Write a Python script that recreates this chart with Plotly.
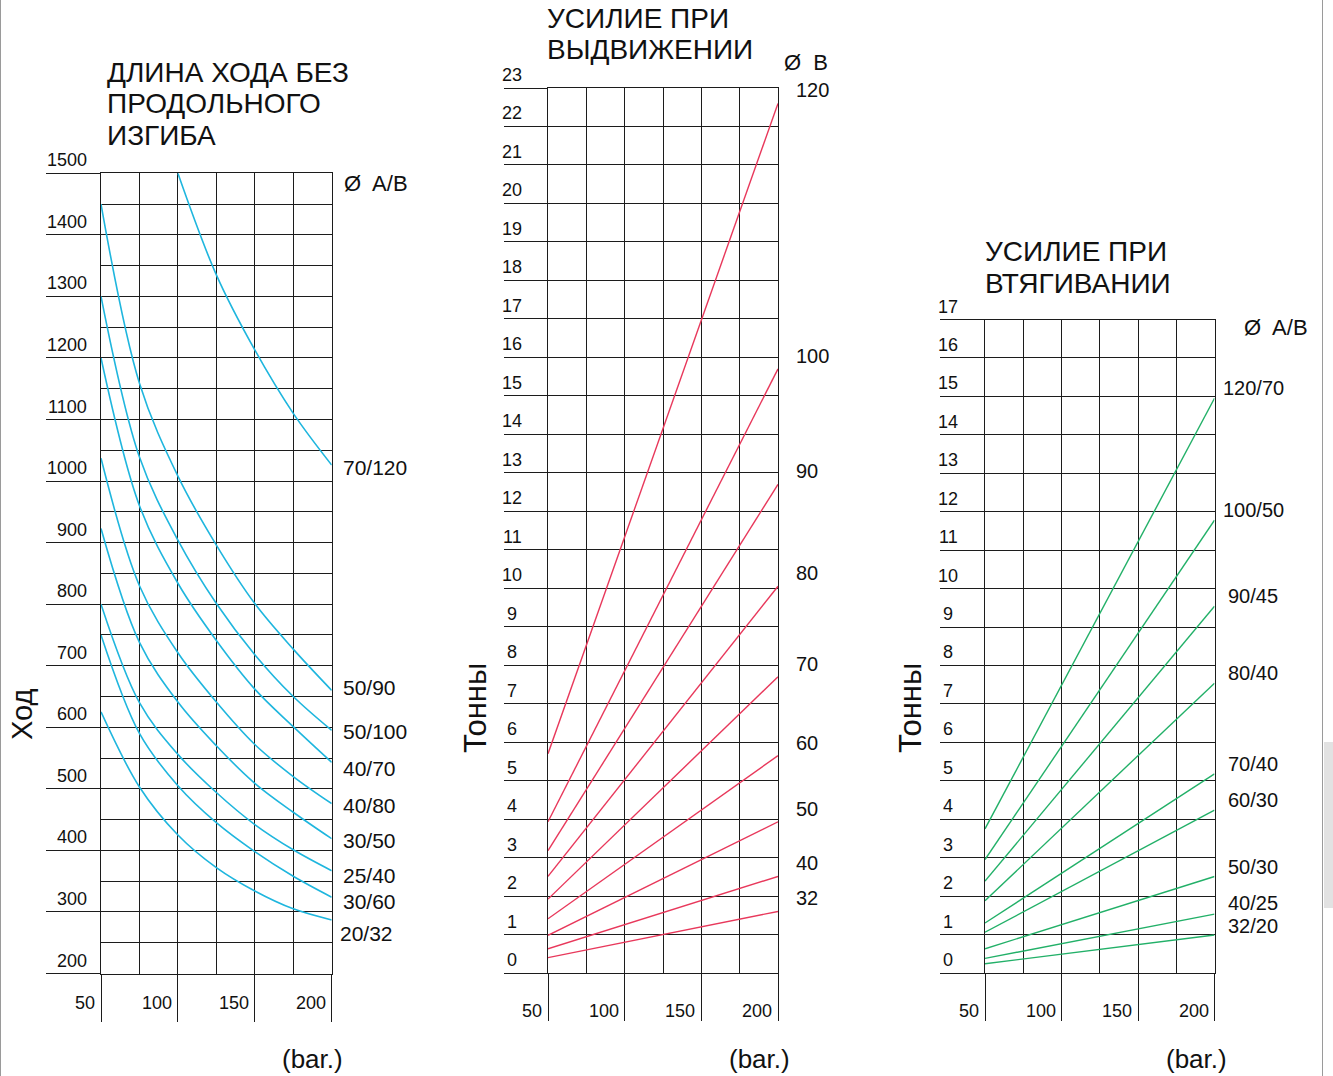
import plotly.graph_objects as go

W, H = 1333, 1076
FONT = "Liberation Sans"
INK = "#111111"
CYAN = "#1fb6de"
RED = "#e8385b"
GREEN = "#22b068"

# ---------------- data ----------------
pressure = [50, 75, 100, 125, 150, 175, 200]           # bar
pressure_70_120 = [100, 125, 150, 175, 200]

# Chart 1: stroke without buckling (mm)
stroke_70_120 = [1500, 1335, 1213, 1110, 1026]
stroke_50_90 = [1450, 1159, 1008, 896, 801, 727, 660]
stroke_50_100 = [1300, 1039, 904, 801, 718, 650, 595]
stroke_40_70 = [1200, 960, 834, 741, 662, 601, 543]
stroke_40_80 = [1037, 830, 721, 641, 572, 520, 476]
stroke_30_50 = [923, 738, 641, 570, 509, 462, 419]
stroke_25_40 = [800, 640, 556, 494, 442, 401, 367]
stroke_30_60 = [750, 590, 505, 445, 398, 358, 324]
stroke_20_32 = [625, 503, 425, 372, 334, 305, 287]

stroke_labels = ["50/90", "50/100", "40/70", "40/80", "30/50", "25/40", "30/60", "20/32"]
stroke_series = [stroke_50_90, stroke_50_100, stroke_40_70, stroke_40_80,
                 stroke_30_50, stroke_25_40, stroke_30_60, stroke_20_32]

# Chart 2: extension force (t) at 50 and 200 bar
extend_labels = ["120", "100", "90", "80", "70", "60", "50", "40", "32"]
extend_at_50 = [5.70, 3.93, 3.18, 2.51, 1.92, 1.41, 0.98, 0.63, 0.40]
extend_at_200 = [22.6, 15.7, 12.7, 10.05, 7.70, 5.65, 3.93, 2.51, 1.60]

# Chart 3: retraction force (t) at 50 and 200 bar
retract_labels = ["120/70", "100/50", "90/45", "80/40", "70/40", "60/30", "50/30", "40/25", "32/20"]
retract_at_50 = [3.75, 2.95, 2.39, 1.88, 1.30, 1.06, 0.63, 0.38, 0.24]
retract_at_200 = [14.95, 11.78, 9.54, 7.54, 5.18, 4.24, 2.51, 1.53, 0.99]

stroke_ticks = list(range(200, 1501, 100))
extend_ticks = list(range(0, 24))
retract_ticks = list(range(0, 18))
bar_ticks = [50, 100, 150, 200]


def px(p):
    return p / W


def py(p):
    return 1 - p / H


fig = go.Figure()

# chart 1 curves
fig.add_trace(go.Scatter(x=pressure_70_120, y=stroke_70_120, mode="lines",
                         line=dict(color=CYAN, width=1.6, shape="spline"),
                         xaxis="x", yaxis="y", hoverinfo="skip"))
for s in stroke_series:
    fig.add_trace(go.Scatter(x=pressure, y=s, mode="lines",
                             line=dict(color=CYAN, width=1.6, shape="spline"),
                             xaxis="x", yaxis="y", hoverinfo="skip"))

# chart 2 lines
for a, b in zip(extend_at_50, extend_at_200):
    fig.add_trace(go.Scatter(x=[50, 200], y=[a, b], mode="lines",
                             line=dict(color=RED, width=1.4),
                             xaxis="x2", yaxis="y2", hoverinfo="skip"))
# chart 3 lines
for a, b in zip(retract_at_50, retract_at_200):
    fig.add_trace(go.Scatter(x=[50, 200], y=[a, b], mode="lines",
                             line=dict(color=GREEN, width=1.4),
                             xaxis="x3", yaxis="y3", hoverinfo="skip"))

GRID = "#1c1c1c"
GW = 1.3


def xax(left, right, anchor):
    return dict(domain=[px(left), px(right)], range=[50, 200], anchor=anchor,
                tickmode="linear", tick0=50, dtick=50, ticks="outside", ticklen=47,
                tickwidth=GW, tickcolor=GRID, showticklabels=False,
                showgrid=True, gridcolor=GRID, gridwidth=GW, zeroline=False,
                showline=True, mirror=True, linecolor=GRID, linewidth=GW,
                minor=dict(tick0=50, dtick=25, showgrid=True, gridcolor=GRID,
                           gridwidth=GW, ticks=""),
                fixedrange=True)


def yax(top, bottom, rng, dtick, ticklen, anchor, minor=None):
    d = dict(domain=[py(bottom), py(top)], range=rng, anchor=anchor,
             tickmode="linear", tick0=rng[0], dtick=dtick, ticks="outside",
             ticklen=ticklen, tickwidth=GW, tickcolor=GRID, showticklabels=False,
             showgrid=True, gridcolor=GRID, gridwidth=GW, zeroline=False,
             showline=True, mirror=True, linecolor=GRID, linewidth=GW,
             fixedrange=True)
    if minor:
        d["minor"] = dict(tick0=rng[0], dtick=minor, showgrid=True,
                          gridcolor=GRID, gridwidth=GW, ticks="")
    return d


ann = []


def text(x, y, t, size, xanchor="left", angle=0, **kw):
    a = dict(x=x, y=y, text=t, showarrow=False, xanchor=xanchor, yanchor="middle",
             font=dict(family=FONT, size=size, color=INK), textangle=angle)
    a.setdefault("xref", "paper")
    a.setdefault("yref", "paper")
    a.update(kw)
    ann.append(a)


# tick labels chart 1
for v in stroke_ticks:
    text(px(89), v, str(v), 18, xanchor="right", yref="y", yshift=13)
for v in bar_ticks:
    text(v, py(1003), str(v), 18, xanchor="right", xref="x", xshift=-3.5)
# chart 2
for v in extend_ticks:
    text(px(512), v, str(v), 18, xanchor="center", yref="y2", yshift=13)
for v in bar_ticks:
    text(v, py(1011), str(v), 18, xanchor="right", xref="x2", xshift=-4)
# chart 3
for v in retract_ticks:
    text(px(948), v, str(v), 18, xanchor="center", yref="y3", yshift=13)
for v in bar_ticks:
    text(v, py(1011), str(v), 18, xanchor="right", xref="x3", xshift=-4)

# series labels
text(px(341), py(468), "70/120", 21)
stroke_label_y = [687, 731, 768, 805, 840, 875, 901, 933]
stroke_label_x = [341, 341, 341, 341, 341, 341, 341, 338]
for t, xx, yy in zip(stroke_labels, stroke_label_x, stroke_label_y):
    text(px(xx), py(yy), t, 21)

for t, v in zip(extend_labels, extend_at_200):
    text(px(794), v, t, 20, yref="y2", yshift=13)
retract_shift = [10, 10, 10, 10, 10, 10, 10, 11, 9]
for t, v, sh in zip(retract_labels, retract_at_200, retract_shift):
    xx = 1221 if len(t) > 5 else 1226
    text(px(xx), v, t, 20, yref="y3", yshift=sh)

# titles
for t, yy in zip(["ДЛИНА ХОДА БЕЗ", "ПРОДОЛЬНОГО", "ИЗГИБА"], [73, 104, 135]):
    text(px(105), py(yy), t, 28)
for t, yy in zip(["УСИЛИЕ ПРИ", "ВЫДВИЖЕНИИ"], [19, 50]):
    text(px(545), py(yy), t, 28)
for t, yy in zip(["УСИЛИЕ ПРИ", "ВТЯГИВАНИИ"], [251, 283]):
    text(px(983), py(yy), t, 28)

text(px(342), py(183), "Ø  A/B", 22)
text(px(782), py(63), "Ø  B", 22)
text(px(1242), py(327), "Ø  A/B", 22)

text(px(22), py(714), "Ход", 29, xanchor="center", angle=-90)
text(px(475), py(708), "Тонны", 31, xanchor="center", angle=-90)
text(px(910), py(708), "Тонны", 31, xanchor="center", angle=-90)

for xx in [312, 759, 1196]:
    text(px(xx), py(1059), "(bar.)", 26, xanchor="center")

shapes = [
    dict(type="line", xref="paper", yref="paper", x0=px(0.5), x1=px(0.5), y0=0, y1=1,
         line=dict(color="#9a9a9a", width=1)),
    dict(type="line", xref="paper", yref="paper", x0=px(1322.5), x1=px(1322.5), y0=0, y1=1,
         line=dict(color="#9a9a9a", width=1)),
    dict(type="rect", xref="paper", yref="paper", x0=px(1324), x1=1, y0=py(908), y1=py(742),
         line=dict(width=0), fillcolor="#e2e2e2"),
]

fig.update_layout(
    width=W, height=H, margin=dict(l=0, r=0, t=0, b=0),
    paper_bgcolor="white", plot_bgcolor="rgba(0,0,0,0)",
    showlegend=False,
    xaxis=xax(101, 331.7, "y"),
    yaxis=yax(173.3, 973.5, [200, 1500], 100, 54, "x", minor=50),
    xaxis2=xax(548, 778, "y2"),
    yaxis2=yax(88, 973, [0, 23], 1, 43, "x2"),
    xaxis3=xax(985, 1214.5, "y3"),
    yaxis3=yax(319.5, 973, [0, 17], 1, 44, "x3"),
    annotations=ann, shapes=shapes,
)

fig.write_html("out.html", config={"displayModeBar": False},
               post_script="document.body.style.margin='0';document.body.style.overflow='hidden';")
